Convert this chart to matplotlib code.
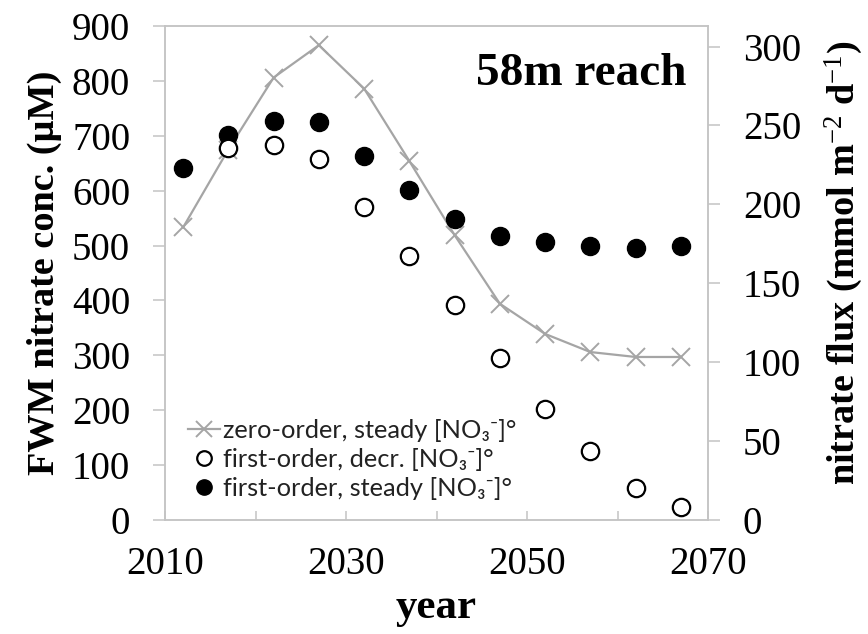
import numpy as np
import matplotlib
matplotlib.use("Agg")
import matplotlib.pyplot as plt
from matplotlib.ticker import FixedLocator
from matplotlib.lines import Line2D

# ---- data ----
years = [2012, 2017, 2022, 2027, 2032, 2037, 2042, 2047, 2052, 2057, 2062, 2067]
zero_order_steady = [533, 675, 806, 865, 786, 654, 519, 394, 339, 306, 297, 297]
first_order_decr = [np.nan, 678, 683, 657, 570, 481, 391, 295, 202, 125, 59, 23]
first_order_steady = [642, 701, 727, 725, 663, 601, 549, 517, 507, 499, 495, 499]

x_major_ticks = [2010, 2030, 2050, 2070]
x_minor_ticks = [2020, 2040, 2060]
left_ticks = [0, 100, 200, 300, 400, 500, 600, 700, 800, 900]
right_ticks = [0, 50, 100, 150, 200, 250, 300]

legend_labels = ["zero-order, steady [NO\u2083\u207b]\u00b0",
                 "first-order, decr. [NO\u2083\u207b]\u00b0",
                 "first-order, steady [NO\u2083\u207b]\u00b0"]

plt.rcParams["mathtext.fontset"] = "custom"
plt.rcParams["mathtext.rm"] = "Liberation Serif"
plt.rcParams["mathtext.bf"] = "Liberation Serif:bold"
plt.rcParams["mathtext.it"] = "Liberation Serif:italic"

SERIF = ["Liberation Serif", "DejaVu Serif"]
SANS = ["Lato", "DejaVu Sans"]
GRID = "#c4c4c4"
LINEGRAY = "#a5a5a5"

fig = plt.figure(figsize=(8.68, 6.34), dpi=100)
W, H = 868, 634
ax = fig.add_axes([165 / W, (H - 520) / H, 543 / W, 494 / H])
ax2 = ax.twinx()

# series
ax.plot(years, zero_order_steady, color=LINEGRAY, lw=1.6, marker="x",
        ms=13, mew=1.4, mec=LINEGRAY, zorder=2)
ax.plot(years, first_order_steady, ls="none", marker="o", ms=13,
        mfc="black", mec="black", zorder=3)
ax.plot(years, first_order_decr, ls="none", marker="o", ms=12.5,
        mfc="white", mec="black", mew=1.6, zorder=4)

ax.set_xlim(2010, 2070)
ax.set_ylim(0, 900)
ax2.set_ylim(0, 313)

# ticks
ax.xaxis.set_major_locator(FixedLocator(x_major_ticks))
ax.xaxis.set_minor_locator(FixedLocator(x_minor_ticks))
ax.yaxis.set_major_locator(FixedLocator(left_ticks))
ax2.yaxis.set_major_locator(FixedLocator(right_ticks))

ax.tick_params(axis="x", which="both", direction="in", length=6.5, width=1.1,
               color=GRID, pad=19, labelsize=28, top=False)
ax.tick_params(axis="y", which="both", direction="out", length=8.6, width=1.1,
               color=GRID, pad=16.5, labelsize=28)
ax2.tick_params(axis="y", direction="out", length=8.6, width=1.1,
                color=GRID, pad=16.5, labelsize=28)
for lab in ax.get_xticklabels() + ax.get_yticklabels() + ax2.get_yticklabels():
    lab.set_family(SERIF)

for a in (ax, ax2):
    for s in a.spines.values():
        s.set_color(GRID)
        s.set_linewidth(1.1)

# labels
ax.set_xlabel("year", fontsize=31, fontweight="bold", family=SERIF)
ax.set_ylabel("FWM nitrate conc. (\u00b5M)", fontsize=27.5, fontweight="bold", family=SERIF)
ax2.set_ylabel(r"nitrate flux (mmol m$^{\mathrm{-2}}$ d$^{\mathrm{-1}}$)", fontsize=27.5,
               fontweight="bold", family=SERIF)
ax.xaxis.set_label_coords(0.5, -0.14)
ax.yaxis.set_label_coords(-0.19, 0.50)
ax2.yaxis.set_label_coords(1.212, 0.52)

ax.text(0.961, 0.880, "58m reach", transform=ax.transAxes, ha="right",
        va="baseline", fontsize=34, fontweight="bold", family=SERIF)

# legend
handles = [
    Line2D([], [], color=LINEGRAY, lw=1.6, marker="x", ms=11, mew=1.4),
    Line2D([], [], ls="none", marker="o", ms=10.5, mfc="white", mec="black", mew=1.6),
    Line2D([], [], ls="none", marker="o", ms=11, mfc="black", mec="black"),
]
leg = ax.legend(handles, legend_labels, loc="lower left",
                bbox_to_anchor=((188 - 165) / 543, 0.04), borderaxespad=0,
                borderpad=0, frameon=False, handlelength=1.25, handletextpad=0.12,
                labelspacing=0.24, prop={"family": SANS, "size": 18.3})
for t in leg.get_texts():
    t.set_color("#222222")

fig.savefig("out.png", dpi=100)
